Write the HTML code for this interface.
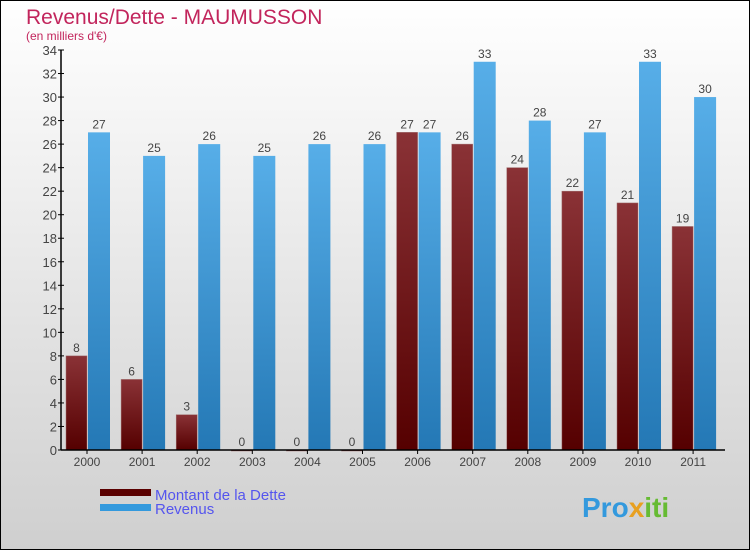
<!DOCTYPE html>
<html><head><meta charset="utf-8"><style>
body{margin:0;width:750px;height:550px;overflow:hidden;font-family:"Liberation Sans",sans-serif}
</style></head><body>
<svg id="chart" width="750" height="550" xmlns="http://www.w3.org/2000/svg">
<defs>
<linearGradient id="bg" x1="0" y1="0" x2="0" y2="1"><stop offset="0" stop-color="#ffffff"/><stop offset="1" stop-color="#cfcfcf"/></linearGradient>
<linearGradient id="gd" x1="0" y1="0" x2="0" y2="1"><stop offset="0" stop-color="#8a3236"/><stop offset="1" stop-color="#550000"/></linearGradient>
<linearGradient id="gr" x1="0" y1="0" x2="0" y2="1"><stop offset="0" stop-color="#57aee8"/><stop offset="1" stop-color="#2478b5"/></linearGradient>
</defs>
<rect x="0.5" y="0.5" width="749" height="549" fill="url(#bg)" stroke="#000"/>
<text x="26" y="24" font-size="21" fill="#c2255c">Revenus/Dette - MAUMUSSON</text>
<text x="26" y="40" font-size="12" fill="#c2255c">(en milliers d'€)</text>
<g id="plot"></g>
<g>
<rect x="100" y="489" width="51" height="7" fill="#5a0000"/>
<rect x="100" y="504" width="51" height="7" fill="#3399dd"/>
<text x="155" y="500" font-size="15" fill="#5555ee">Montant de la Dette</text>
<text x="155" y="514" font-size="15" fill="#5555ee">Revenus</text>
</g>
<text x="582" y="517" font-size="28" font-weight="bold" fill="#3399dd">Pro<tspan fill="#e8a020">x</tspan><tspan fill="#66bb33">iti</tspan></text>
</svg>
<script>
const categories=["2000","2001","2002","2003","2004","2005","2006","2007","2008","2009","2010","2011"];
const dette=[8,6,3,0,0,0,27,26,24,22,21,19];
const revenus=[27,25,26,25,26,26,27,33,28,27,33,30];
const yTicks=[0,2,4,6,8,10,12,14,16,18,20,22,24,26,28,30,32,34];
const NS="http://www.w3.org/2000/svg";
const g=document.getElementById("plot");
const x0=61,step=55.1,yBase=450,yMax=34,hgt=400;
const y=v=>yBase-v/yMax*hgt;
const cx=i=>x0+26+i*step;
function mk(t,a){const e=document.createElementNS(NS,t);for(const k in a)e.setAttribute(k,a[k]);g.appendChild(e);return e;}
categories.forEach((c,i)=>{
 const d=mk("rect",{x:cx(i)-21,y:y(dette[i]),width:21,height:Math.max(yBase-y(dette[i]),1),fill:"url(#gd)",stroke:"#a07070","stroke-width":0.5});
 
 
 const r=mk("rect",{x:cx(i)+1,y:y(revenus[i]),width:22,height:yBase-y(revenus[i]),fill:"url(#gr)"});
 
 
 const t1=mk("text",{x:cx(i)-10.5,y:y(dette[i])-4,"font-size":12,fill:"#444","text-anchor":"middle"});t1.textContent=dette[i];
 
 
 const t2=mk("text",{x:cx(i)+12,y:y(revenus[i])-4,"font-size":12,fill:"#444","text-anchor":"middle"});t2.textContent=revenus[i];
 
 
 const tk=mk("line",{x1:cx(i),x2:cx(i),y1:yBase,y2:yBase+4,stroke:"#000"});
 
 
 const tl=mk("text",{x:cx(i),y:yBase+16,"font-size":12,fill:"#444","text-anchor":"middle"});tl.textContent=c;
 
 
});
yTicks.forEach(v=>{
 const l=mk("line",{x1:x0-3,x2:x0+3,y1:y(v),y2:y(v),stroke:"#000"});
 
 
 const t=mk("text",{x:x0-4,y:y(v)+5,"font-size":13,fill:"#444","text-anchor":"end"});t.textContent=v;
 
 
});
const ya=mk("line",{x1:x0,x2:x0,y1:50,y2:yBase,stroke:"#000","stroke-width":1.5});


const xa=mk("line",{x1:x0,x2:725,y1:yBase,y2:yBase,stroke:"#000","stroke-width":1.5});


</script>
</body></html>
